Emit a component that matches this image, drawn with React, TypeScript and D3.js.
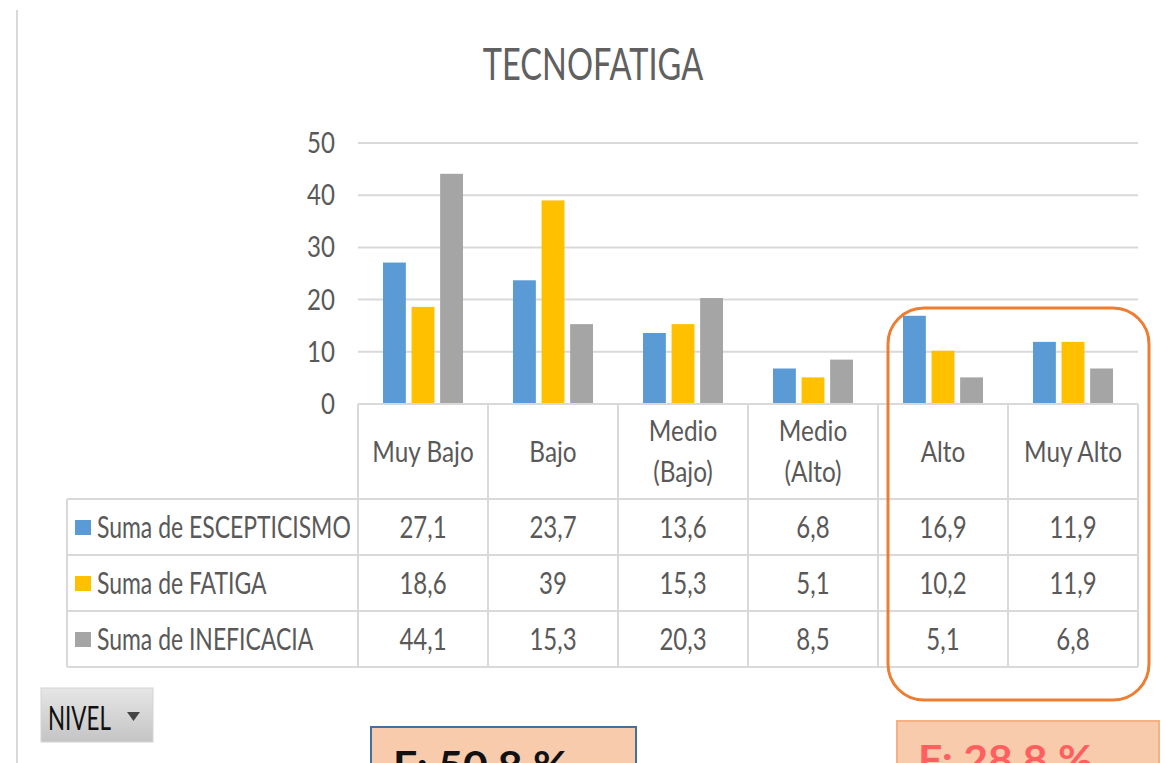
import * as d3 from 'd3';

const categories = ['Muy Bajo', 'Bajo', 'Medio (Bajo)', 'Medio (Alto)', 'Alto', 'Muy Alto'];
const categoryLines = [['Muy Bajo'], ['Bajo'], ['Medio', '(Bajo)'], ['Medio', '(Alto)'], ['Alto'], ['Muy Alto']];
const seriesNames = ['Suma de ESCEPTICISMO', 'Suma de FATIGA', 'Suma de INEFICACIA'];
const escepticismo = [27.1, 23.7, 13.6, 6.8, 16.9, 11.9];
const fatiga = [18.6, 39, 15.3, 5.1, 10.2, 11.9];
const ineficacia = [44.1, 15.3, 20.3, 8.5, 5.1, 6.8];
const seriesColors = ['#5B9BD5', '#FFC000', '#A5A5A5'];
const yTicks = [0, 10, 20, 30, 40, 50];

const W = 1166;
const H = 763;
const FONT = 'Lato, "Open Sans", sans-serif';
const TXT = '#595959';
const GRID = '#d9d9d9';

const fmt = (v: number) => String(v).replace('.', ',');

type TProps = {
  x: number;
  y: number;
  sx: number;
  size: number;
  anchor?: 'start' | 'middle' | 'end';
  fill?: string;
  weight?: number | string;
  children: string;
};

// Excel text here is a squeezed Calibri, so scale glyphs horizontally
const NarrowText = ({ x, y, sx, size, anchor = 'start', fill = TXT, weight = 400, children }: TProps) => (
  <g transform={`translate(${x},${y}) scale(${sx},1)`}>
    <text fontFamily={FONT} fontSize={size} textAnchor={anchor} fill={fill} fontWeight={weight}>
      {children}
    </text>
  </g>
);

const App = () => {
  const series = [escepticismo, fatiga, ineficacia];
  const plotLeft = 358;
  const plotRight = 1138;
  const x0 = d3.scaleBand<string>().domain(categories).range([plotLeft, plotRight]).padding(0);
  const x1 = d3
    .scaleBand<number>()
    .domain([0, 1, 2])
    .range([25, x0.bandwidth() - 25])
    .paddingInner(0.2);
  const y = d3.scaleLinear().domain([0, 50]).range([404, 143]);

  const rowTops = [499, 555, 611, 667];
  const tableLeft = 67;

  return (
    <svg
      width={W}
      height={H}
      viewBox={`0 0 ${W} ${H}`}
      style={{ position: 'absolute', left: 0, top: 0, background: '#fff' }}
    >
      <rect x={0} y={0} width={W} height={H} fill='#fff' />
      {/* left sheet edge */}
      <line x1={17} x2={17} y1={10} y2={H} stroke={GRID} strokeWidth={2} />

      <NarrowText x={593} y={80} sx={0.74} size={44} anchor='middle' fill='#606060'>
        TECNOFATIGA
      </NarrowText>

      {/* gridlines */}
      {yTicks.slice(1).map((t) => (
        <line key={t} x1={plotLeft} x2={plotRight} y1={y(t)} y2={y(t)} stroke={GRID} strokeWidth={2} />
      ))}
      {yTicks.map((t) => (
        <NarrowText key={t} x={335} y={y(t) + 10} sx={0.86} size={28} anchor='end'>
          {String(t)}
        </NarrowText>
      ))}

      {/* bars */}
      {categories.map((c, i) => (
        <g key={c} transform={`translate(${x0(c)},0)`}>
          {series.map((s, j) => (
            <rect
              key={j}
              x={x1(j)}
              y={y(s[i])}
              width={x1.bandwidth()}
              height={y(0) - y(s[i])}
              fill={seriesColors[j]}
            />
          ))}
        </g>
      ))}

      {/* data table */}
      <g stroke={GRID} strokeWidth={2}>
        <line x1={plotLeft} x2={plotRight} y1={y(0)} y2={y(0)} />
        {rowTops.map((r) => (
          <line key={r} x1={tableLeft} x2={plotRight} y1={r} y2={r} />
        ))}
        <line x1={tableLeft} x2={tableLeft} y1={rowTops[0]} y2={rowTops[3]} />
        {categories.map((c) => (
          <line key={c} x1={x0(c)} x2={x0(c)} y1={y(0)} y2={rowTops[3]} />
        ))}
        <line x1={plotRight} x2={plotRight} y1={y(0)} y2={rowTops[3]} />
      </g>

      {categoryLines.map((lines, i) => {
        const cx = (x0(categories[i]) ?? 0) + x0.bandwidth() / 2;
        if (lines.length === 1) {
          return (
            <NarrowText key={i} x={cx} y={462} sx={0.84} size={29} anchor='middle'>
              {lines[0]}
            </NarrowText>
          );
        }
        return (
          <g key={i}>
            <NarrowText x={cx} y={441} sx={0.84} size={29} anchor='middle'>
              {lines[0]}
            </NarrowText>
            <NarrowText x={cx} y={482} sx={0.84} size={29} anchor='middle'>
              {lines[1]}
            </NarrowText>
          </g>
        );
      })}

      {seriesNames.map((name, j) => {
        const top = rowTops[j];
        const mid = (top + rowTops[j + 1]) / 2;
        return (
          <g key={name}>
            <rect x={75} y={mid - 7} width={16} height={15} fill={seriesColors[j]} />
            <NarrowText x={97} y={mid + 11} sx={0.765} size={30}>
              {name}
            </NarrowText>
            {series[j].map((v, i) => (
              <NarrowText
                key={i}
                x={(x0(categories[i]) ?? 0) + x0.bandwidth() / 2}
                y={mid + 11}
                sx={0.8}
                size={30}
                anchor='middle'
              >
                {fmt(v)}
              </NarrowText>
            ))}
          </g>
        );
      })}

      {/* highlight around Alto / Muy Alto */}
      <rect x={888} y={308} width={261} height={392} rx={36} ry={36} fill='none' stroke='#ED7D31' strokeWidth={3} />

      {/* NIVEL slicer button */}
      <defs>
        <linearGradient id='btn' x1='0' x2='0' y1='0' y2='1'>
          <stop offset='0' stopColor='#e6e6e6' />
          <stop offset='1' stopColor='#c4c4c4' />
        </linearGradient>
      </defs>
      <rect x={41} y={688} width={112} height={54} fill='url(#btn)' stroke='#d4d4d4' strokeWidth={1} />
      <NarrowText x={48} y={730} sx={0.7} size={32} fill='#111'>
        NIVEL
      </NarrowText>
      <path d='M127,712 L140,712 L133.5,721 Z' fill='#444' />

      {/* percentage notes (cut off at bottom, as in the source screenshot) */}
      <rect x={371} y={727} width={265} height={60} fill='#F8CBAD' stroke='#41719C' strokeWidth={2} />
      <NarrowText x={393} y={780} sx={1.07} size={40} fill='#111' weight={700}>
        F: 50,8 %
      </NarrowText>
      <rect x={897} y={721} width={262} height={60} fill='#F8CBAD' stroke='#F4B183' strokeWidth={2} />
      <NarrowText x={918} y={774} sx={1.07} size={40} fill='#FF5F5F' weight={700}>
        F: 28,8 %
      </NarrowText>
    </svg>
  );
};

export default App;
